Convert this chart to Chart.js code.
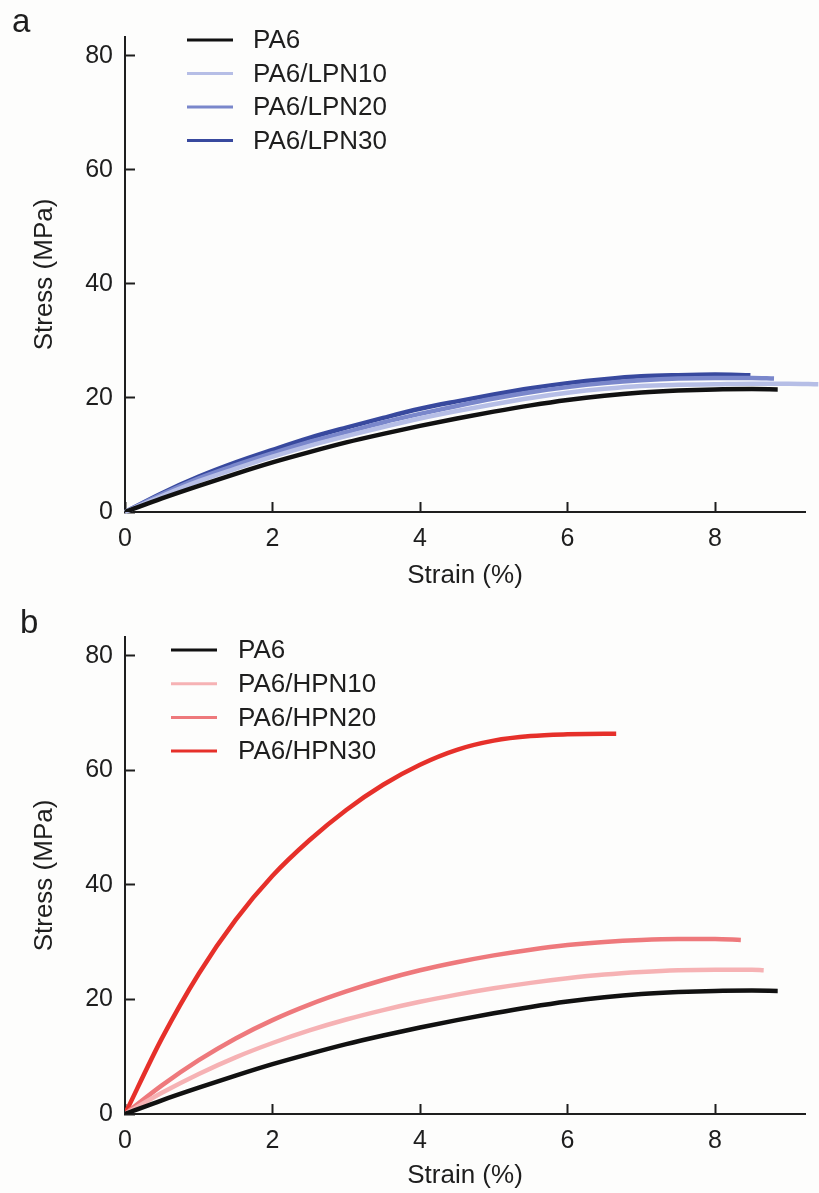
<!DOCTYPE html>
<html>
<head>
<meta charset="utf-8">
<script src="https://cdn.jsdelivr.net/npm/chart.js@4.4.1/dist/chart.umd.min.js"></script>
<style>
  html, body { margin: 0; padding: 0; background: #fdfdfc; }
  #wrap { position: relative; width: 819px; height: 1193px; }
  canvas { position: absolute; left: 0; }
  #cvA { top: 0; }
  #cvB { top: 600px; }
</style>
</head>
<body>
<div id="wrap">
  <canvas id="cvA" width="819" height="600"></canvas>
  <canvas id="cvB" width="819" height="593"></canvas>
</div>
<script>
/* ══════════════════════════════════════
   Tensile curves — stress vs strain
   a: PA6 + LPN blends, b: PA6 + HPN blends
══════════════════════════════════════ */

/* ── axis ticks ── */
var xTicks = [0, 2, 4, 6, 8];
var yTicks = [0, 20, 40, 60, 80];

/* ── PA6 (shared by both panels) ── */
var pa6Strain = [0, 0.5, 1, 1.5, 2, 2.5, 3, 3.5, 4, 4.5, 5, 5.5, 6, 6.5, 7, 7.5, 8, 8.5, 8.85];
var pa6Stress = [0, 2.4, 4.6, 6.7, 8.7, 10.5, 12.2, 13.7, 15.1, 16.4, 17.6, 18.7, 19.65, 20.4, 20.95, 21.3, 21.5, 21.55, 21.5];

/* ── LPN series ── */
var lpn10Strain = [0, 0.5, 1, 1.5, 2, 2.5, 3, 3.5, 4, 4.5, 5, 5.5, 6, 6.5, 7, 7.5, 8, 8.5, 9, 9.4];
var lpn10Stress = [0, 2.8, 5.4, 7.6, 9.7, 11.6, 13.3, 14.9, 16.4, 17.7, 18.9, 20.0, 20.9, 21.6, 22.1, 22.3, 22.4, 22.5, 22.5, 22.4];
var lpn20Strain = [0, 0.5, 1, 1.5, 2, 2.5, 3, 3.5, 4, 4.5, 5, 5.5, 6, 6.5, 7, 7.5, 8, 8.5, 8.8];
var lpn20Stress = [0, 3.1, 5.9, 8.2, 10.3, 12.3, 14.0, 15.7, 17.2, 18.6, 19.9, 21.0, 21.9, 22.6, 23.1, 23.4, 23.5, 23.5, 23.4];
var lpn30Strain = [0, 0.5, 1, 1.5, 2, 2.5, 3, 3.5, 4, 4.5, 5, 5.5, 6, 6.5, 7, 7.5, 8, 8.48];
var lpn30Stress = [0, 3.3, 6.2, 8.7, 10.9, 13.0, 14.8, 16.5, 18.1, 19.4, 20.6, 21.7, 22.6, 23.3, 23.8, 24.0, 24.1, 24.0];

/* ── HPN series ── */
var hpn10Strain = [0, 0.5, 1, 1.5, 2, 2.5, 3, 3.5, 4, 4.5, 5, 5.5, 6, 6.5, 7, 7.5, 8, 8.5, 8.66];
var hpn10Stress = [0, 3.7, 7.0, 9.9, 12.4, 14.6, 16.5, 18.15, 19.6, 20.85, 21.95, 22.9, 23.7, 24.35, 24.8, 25.1, 25.2, 25.2, 25.1];
var hpn20Strain = [0, 0.5, 1, 1.5, 2, 2.5, 3, 3.5, 4, 4.5, 5, 5.5, 6, 6.5, 7, 7.5, 8, 8.35];
var hpn20Stress = [0, 5.0, 9.4, 13.2, 16.4, 19.1, 21.4, 23.4, 25.1, 26.5, 27.7, 28.7, 29.5, 30.05, 30.4, 30.55, 30.55, 30.4];
var hpn30Strain = [0, 0.5, 1, 1.5, 2, 2.5, 3, 3.5, 4, 4.5, 5, 5.5, 6, 6.5, 6.66];
var hpn30Stress = [0, 13.2, 24.5, 33.9, 41.6, 47.8, 53.1, 57.5, 61.0, 63.6, 65.2, 66.0, 66.3, 66.4, 66.4];

var FONT = '"Liberation Sans", Arial, Helvetica, sans-serif';
var INK  = '#1e1e1e';

function pts(xs, ys) {
  return xs.map(function(x, i) { return { x: x, y: ys[i] }; });
}

function series(label, xs, ys, color) {
  return {
    label: label,
    data: pts(xs, ys),
    borderColor: color,
    backgroundColor: color,
    borderWidth: 4.5,
    pointRadius: 0,
    cubicInterpolationMode: 'monotone',
    fill: false
  };
}

/* ── legend + panel letter drawn on the canvas ── */
var panelDecor = {
  id: 'panelDecor',
  afterDraw: function(chart, args, opts) {
    var ctx = chart.ctx;
    ctx.save();
    ctx.font = '33px ' + FONT;
    ctx.fillStyle = INK;
    ctx.textAlign = 'left';
    ctx.textBaseline = 'alphabetic';
    ctx.fillText(opts.letter, opts.letterX, opts.letterY);

    ctx.font = '26px ' + FONT;
    ctx.textBaseline = 'middle';
    chart.data.datasets.forEach(function(ds, i) {
      var y = opts.legendY + i * opts.rowGap;
      ctx.strokeStyle = ds.borderColor;
      ctx.lineWidth = 3;
      ctx.beginPath();
      ctx.moveTo(opts.lineX, y);
      ctx.lineTo(opts.lineX + 46, y);
      ctx.stroke();
      ctx.fillStyle = INK;
      ctx.fillText(ds.label, opts.textX, y + 1);
    });
    ctx.restore();
  }
};

function axis(min, max, ticks, title, titlePad, fitSize, horizontal) {
  return {
    type: 'linear',
    min: min,
    max: max,
    afterBuildTicks: function(s) {
      s.ticks = ticks.map(function(v) { return { value: v }; });
    },
    afterFit: function(s) {
      if (horizontal) s.height = fitSize; else s.width = fitSize;
    },
    border: { color: INK, width: 2 },
    grid: {
      drawOnChartArea: false,
      drawTicks: true,
      tickLength: -10,
      tickWidth: 2,
      tickColor: INK,
      color: INK
    },
    ticks: {
      color: INK,
      font: { family: FONT, size: 25 },
      padding: 22,
      maxRotation: 0,
      autoSkip: false
    },
    title: {
      display: true,
      text: title,
      color: INK,
      font: { family: FONT, size: 26 },
      padding: titlePad
    }
  };
}

function makePanel(id, datasets, cfg) {
  return new Chart(document.getElementById(id), {
    type: 'line',
    data: { datasets: datasets },
    options: {
      responsive: false,
      animation: false,
      layout: { padding: { left: 20, right: 14, top: cfg.top, bottom: 0 } },
      plugins: {
        legend: { display: false },
        tooltip: { enabled: false },
        panelDecor: cfg.decor
      },
      scales: {
        x: axis(0, 9.22, xTicks, 'Strain (%)', { top: 0, bottom: cfg.xTitlePad }, cfg.xAxisH, true),
        y: axis(0, 83.3, yTicks, 'Stress (MPa)', { top: 9, bottom: 0 }, 105, false)
      }
    },
    plugins: [panelDecor]
  });
}

/* ── panel a ── */
var lpn10 = series('PA6/LPN10', lpn10Strain, lpn10Stress, '#b6bee6');
lpn10.clip = false;
makePanel('cvA', [
  series('PA6', pa6Strain, pa6Stress, '#111111'),
  lpn10,
  series('PA6/LPN20', lpn20Strain, lpn20Stress, '#7a87cb'),
  series('PA6/LPN30', lpn30Strain, lpn30Stress, '#38499e')
], {
  top: 32, xAxisH: 88, xTitlePad: 9,
  decor: { letter: 'a', letterX: 12, letterY: 32, lineX: 187, textX: 253, legendY: 40, rowGap: 33.5 }
});

/* ── panel b ── */
makePanel('cvB', [
  series('PA6', pa6Strain, pa6Stress, '#111111'),
  series('PA6/HPN10', hpn10Strain, hpn10Stress, '#f6b2b4'),
  series('PA6/HPN20', hpn20Strain, hpn20Stress, '#ee797c'),
  series('PA6/HPN30', hpn30Strain, hpn30Stress, '#e6302a')
], {
  top: 33, xAxisH: 79, xTitlePad: 2,
  decor: { letter: 'b', letterX: 20, letterY: 33, lineX: 171, textX: 238, legendY: 50, rowGap: 33.7 }
});
</script>
</body>
</html>
